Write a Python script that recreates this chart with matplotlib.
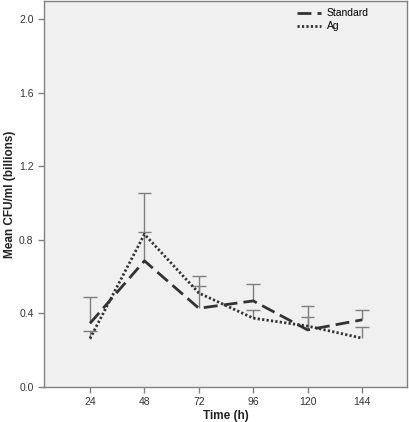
import matplotlib
matplotlib.use("Agg")
import matplotlib.pyplot as plt
import numpy as np

plt.rcParams['font.family'] = ['Liberation Sans', 'DejaVu Sans']

time_h = [24, 48, 72, 96, 120, 144]
standard_mean = [0.345, 0.685, 0.427, 0.467, 0.309, 0.364]
standard_upper = [0.487, 0.840, 0.600, 0.560, 0.440, 0.420]
ag_mean = [0.262, 0.830, 0.510, 0.373, 0.330, 0.264]
ag_upper = [0.305, 1.055, 0.547, 0.418, 0.378, 0.327]
y_ticks = [0.0, 0.4, 0.8, 1.2, 1.6, 2.0]

fig = plt.figure(figsize=(4.09, 4.22), dpi=100)
ax = fig.add_axes([0.1076, 0.0837, 0.8874, 0.914])
ax.set_facecolor('#f0f0f0')

line_col = '#333333'
err_col = '#7f7f7f'
cap_half = 3.0

for means, uppers in [(standard_mean, standard_upper), (ag_mean, ag_upper)]:
    x = np.array(time_h, dtype=float)
    ax.vlines(x, means, uppers, color=err_col, lw=1.0, zorder=2)
    ax.hlines(uppers, x - cap_half, x + cap_half, color=err_col, lw=1.0, zorder=2)

ax.plot(time_h, standard_mean, color=line_col, lw=2.0, dashes=(5, 2.2), label='Standard', zorder=3)
ax.plot(time_h, ag_mean, color=line_col, lw=2.0, dashes=(0.8, 0.8), label='Ag', zorder=3)

ax.set_xlim(3.7, 163.8)
ax.set_ylim(0, 2.1)
ax.set_xticks(time_h)
ax.set_xticklabels([str(t) for t in time_h])
ax.set_yticks(y_ticks)
ax.set_yticklabels([f"{v:.1f}" for v in y_ticks])

for s in ax.spines.values():
    s.set_color('#808080')
    s.set_linewidth(1.0)
ax.tick_params(axis='both', colors='#808080', labelcolor='#333333', labelsize=7.5, length=4, width=1)

ax.set_xlabel('Time (h)', fontsize=8.5, fontweight='bold', color='#222222', labelpad=2)
ax.set_ylabel('Mean CFU/ml (billions)', fontsize=8.5, fontweight='bold', color='#222222', labelpad=2)

leg = ax.legend(loc='upper right', bbox_to_anchor=(0.915, 1.0), frameon=False, fontsize=7.5,
                handlelength=2.3, handletextpad=0.6, labelspacing=0.3, borderaxespad=0.3)

fig.savefig('out.png', dpi=100, facecolor='white')
